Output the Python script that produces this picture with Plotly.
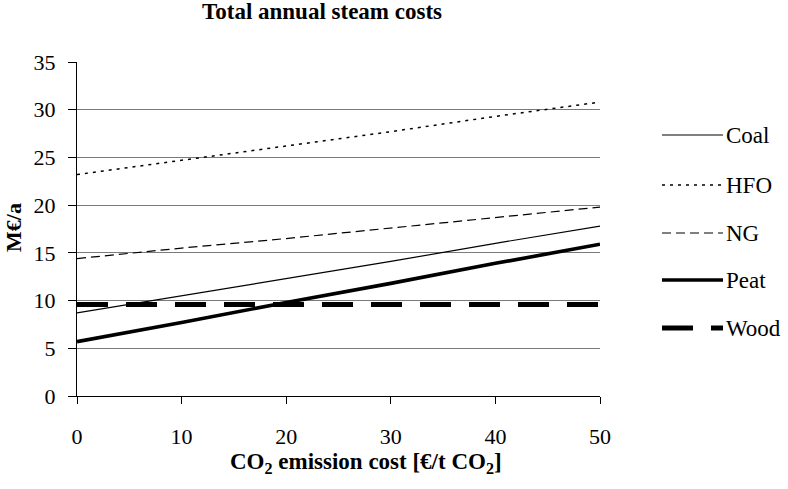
import plotly.graph_objects as go

# ---- data ----
co2_cost = [0, 10, 20, 30, 40, 50]
coal = [8.7, 10.5, 12.3, 14.1, 16.0, 17.8]
hfo = [23.2, 24.7, 26.2, 27.7, 29.3, 30.8]
ng = [14.4, 15.5, 16.5, 17.6, 18.7, 19.8]
peat = [5.7, 7.7, 9.8, 11.8, 13.9, 15.9]
wood = [9.6, 9.6, 9.6, 9.6, 9.6, 9.6]

series_names = ["Coal", "HFO", "NG", "Peat", "Wood"]
series_values = [coal, hfo, ng, peat, wood]
styles = [
    dict(width=1.2, dash="solid"),
    dict(width=1.5, dash="3px,5px"),
    dict(width=1.2, dash="9px,5px"),
    dict(width=3.6, dash="solid"),
    dict(width=5, dash="31px,18px"),
]

FONT = "Liberation Serif"

fig = go.Figure()
for name, vals, st in zip(series_names, series_values, styles):
    fig.add_trace(go.Scatter(
        x=co2_cost, y=vals, mode="lines", name=name,
        line=dict(color="black", width=st["width"], dash=st["dash"]),
        showlegend=False,
    ))

W, H = 788, 489
PL, PR, PT, PB = 77, 600, 62, 396          # plot area in screen pixels
L, T = PL, PT
R, B = W - PR, H - PB
pw = W - L - R
ph = H - T - B

def px_x(px):
    return (px - PL) / pw

def px_y(py):
    return (PB - py) / ph

def fnt(size, weight=400):
    return dict(family=FONT, size=size, color="black", weight=weight)

shapes = []
annotations = []
legend_rows = [135, 185, 233, 280, 328]
for name, st, ry in zip(series_names, styles, legend_rows):
    shapes.append(dict(
        type="line", xref="paper", yref="paper",
        x0=px_x(662), x1=px_x(723), y0=px_y(ry), y1=px_y(ry),
        line=dict(color="black", width=st["width"], dash=st["dash"]),
    ))
    annotations.append(dict(
        text=name, xref="paper", yref="paper", x=px_x(724), y=px_y(ry),
        xanchor="left", yanchor="middle", showarrow=False,
        font=fnt(23),
    ))

annotations.append(dict(
    text="Total annual steam costs", xref="paper", yref="paper",
    x=px_x(322), y=px_y(11), xanchor="center", yanchor="middle", showarrow=False,
    font=fnt(23, 700),
))
annotations.append(dict(
    text="CO<sub>2</sub> emission cost [€/t CO<sub>2</sub>]", xref="paper", yref="paper",
    x=px_x(366), y=px_y(463), xanchor="center", yanchor="middle", showarrow=False,
    font=fnt(23, 700),
))
annotations.append(dict(
    text="M€/a", xref="paper", yref="paper", textangle=-90,
    x=px_x(13), y=px_y(228), xanchor="center", yanchor="middle", showarrow=False,
    font=fnt(22, 700),
))

fig.update_layout(
    width=W, height=H,
    margin=dict(l=L, r=R, t=T, b=B),
    paper_bgcolor="white", plot_bgcolor="white",
    font=fnt(22),
    shapes=shapes, annotations=annotations,
    showlegend=False,
)
fig.update_xaxes(
    range=[0, 50], tickvals=[0, 10, 20, 30, 40, 50],
    showgrid=False, zeroline=False,
    showline=True, linecolor="black", linewidth=1,
    ticks="outside", ticklen=7, tickcolor="black", tickwidth=1,
    ticklabelstandoff=14,
    tickfont=fnt(22),
)
fig.update_yaxes(
    range=[0, 35], tickvals=[0, 5, 10, 15, 20, 25, 30, 35],
    showgrid=True, gridcolor="#7a7a7a", gridwidth=1.2, zeroline=False,
    showline=True, linecolor="black", linewidth=1,
    ticks="outside", ticklen=8, tickcolor="black", tickwidth=1,
    ticklabelstandoff=8,
    tickfont=fnt(22),
)

fig.write_html(
    "out.html",
    config={"displayModeBar": False},
    post_script="document.body.style.margin='0';document.body.style.padding='0';",
)
